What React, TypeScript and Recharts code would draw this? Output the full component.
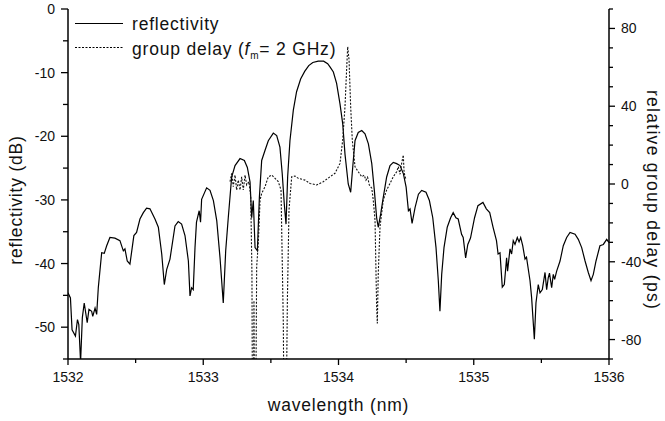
import React from 'react';
import { LineChart, Line, XAxis, YAxis, Legend } from 'recharts';

const reflWavelength = [
  1532.0, 1532.018, 1532.03, 1532.055, 1532.07, 1532.08, 1532.093, 1532.106, 1532.12, 1532.142,
  1532.155, 1532.175, 1532.183, 1532.2, 1532.212, 1532.224, 1532.249, 1532.268, 1532.286, 1532.31,
  1532.347, 1532.384, 1532.409, 1532.421, 1532.438, 1532.458, 1532.487, 1532.507, 1532.532, 1532.557,
  1532.581, 1532.606, 1532.643, 1532.668, 1532.693, 1532.712, 1532.73, 1532.754, 1532.791, 1532.815,
  1532.84, 1532.865, 1532.89, 1532.902, 1532.914, 1532.926, 1532.939, 1532.95, 1532.97, 1532.98,
  1532.988, 1533.025, 1533.05, 1533.075, 1533.1, 1533.124, 1533.148, 1533.166, 1533.185, 1533.21,
  1533.235, 1533.272, 1533.304, 1533.326, 1533.346, 1533.358, 1533.37, 1533.383, 1533.4, 1533.415,
  1533.432, 1533.457, 1533.481, 1533.518, 1533.543, 1533.567, 1533.584, 1533.599, 1533.612, 1533.624,
  1533.641, 1533.666, 1533.69, 1533.72, 1533.75, 1533.78, 1533.81, 1533.85, 1533.89, 1533.92,
  1533.937, 1533.962, 1533.986, 1534.011, 1534.031, 1534.048, 1534.072, 1534.09, 1534.105, 1534.122,
  1534.146, 1534.172, 1534.196, 1534.221, 1534.246, 1534.265, 1534.282, 1534.294, 1534.312, 1534.331,
  1534.356, 1534.381, 1534.405, 1534.43, 1534.455, 1534.48, 1534.5, 1534.517, 1534.529, 1534.544,
  1534.566, 1534.591, 1534.615, 1534.647, 1534.672, 1534.697, 1534.721, 1534.738, 1534.75, 1534.763,
  1534.78, 1534.804, 1534.829, 1534.848, 1534.868, 1534.885, 1534.91, 1534.922, 1534.94, 1534.956,
  1534.976, 1535.006, 1535.031, 1535.068, 1535.093, 1535.118, 1535.143, 1535.168, 1535.18, 1535.194,
  1535.211, 1535.226, 1535.243, 1535.25, 1535.268, 1535.28, 1535.292, 1535.305, 1535.322, 1535.335,
  1535.347, 1535.362, 1535.379, 1535.39, 1535.416, 1535.428, 1535.448, 1535.46, 1535.477, 1535.49,
  1535.507, 1535.527, 1535.539, 1535.551, 1535.56, 1535.576, 1535.588, 1535.598, 1535.613, 1535.638,
  1535.662, 1535.687, 1535.712, 1535.749, 1535.773, 1535.798, 1535.823, 1535.847, 1535.867, 1535.884,
  1535.904, 1535.933, 1535.958, 1535.983, 1536.0,
];

const reflDb = [
  -44.6, -45.4, -50.4, -51.4, -48.8, -49.6, -55.5, -48.5, -46.2, -49.3,
  -47.2, -47.5, -48.3, -47.0, -48.0, -43.8, -38.3, -38.4, -37.2, -35.9,
  -36.0, -36.4, -38.0, -37.7, -39.6, -40.1, -35.6, -35.1, -33.0, -32.0,
  -31.3, -31.4, -33.0, -34.3, -38.5, -43.3, -40.9, -39.3, -34.1, -33.4,
  -33.8, -35.6, -39.6, -45.1, -43.8, -44.1, -37.5, -33.5, -31.7, -33.5,
  -29.9, -28.1, -28.5, -30.1, -33.3, -39.1, -46.2, -38.0, -32.8, -26.4,
  -24.6, -23.5, -23.8, -24.9, -27.2, -32.8, -30.1, -37.5, -38.0, -29.6,
  -23.8, -22.2, -20.7, -19.5, -19.9, -21.7, -25.9, -30.6, -33.8, -26.4,
  -20.7, -15.9, -13.0, -11.0, -9.8, -8.9, -8.4, -8.2, -8.2, -8.6,
  -9.1, -9.9, -11.7, -14.9, -18.0, -22.8, -27.5, -28.8, -24.9, -20.7,
  -19.4, -19.1, -19.6, -21.2, -24.3, -28.5, -32.8, -34.3, -32.2, -29.6,
  -26.4, -24.6, -24.1, -24.3, -24.6, -25.9, -28.0, -31.7, -31.4, -33.7,
  -31.2, -29.1, -28.5, -28.8, -30.1, -32.8, -37.5, -42.7, -47.5, -41.7,
  -37.5, -34.3, -32.8, -32.0, -32.8, -33.0, -35.4, -35.9, -39.1, -37.0,
  -36.0, -32.8, -30.9, -30.4, -31.4, -32.0, -34.3, -36.4, -38.5, -38.3,
  -43.7, -43.3, -39.1, -41.2, -37.7, -38.5, -36.4, -37.0, -35.9, -36.6,
  -35.9, -37.2, -39.3, -39.0, -42.7, -45.4, -51.9, -46.2, -43.3, -44.6,
  -44.1, -41.4, -44.1, -42.2, -41.5, -43.8, -41.7, -42.5, -41.2, -39.6,
  -37.2, -35.9, -35.1, -35.4, -36.2, -37.5, -39.6, -41.4, -42.7, -41.7,
  -39.6, -37.2, -37.0, -36.2, -36.7,
];

const delayWavelength = [
  1533.198, 1533.21, 1533.222, 1533.235, 1533.247, 1533.259, 1533.272, 1533.284, 1533.296, 1533.309,
  1533.321, 1533.338, 1533.351, 1533.36, 1533.365, 1533.37, 1533.375, 1533.38, 1533.386, 1533.395,
  1533.407, 1533.42, 1533.432, 1533.457, 1533.469, 1533.481, 1533.506, 1533.531, 1533.555, 1533.575,
  1533.592, 1533.599, 1533.61, 1533.622, 1533.634, 1533.654, 1533.678, 1533.703, 1533.752, 1533.789,
  1533.839, 1533.888, 1533.937, 1533.974, 1534.011, 1534.031, 1534.048, 1534.061, 1534.068, 1534.078,
  1534.09, 1534.102, 1534.122, 1534.146, 1534.172, 1534.19, 1534.203, 1534.215, 1534.228, 1534.246,
  1534.257, 1534.27, 1534.282, 1534.287, 1534.294, 1534.307, 1534.331, 1534.356, 1534.381, 1534.405,
  1534.43, 1534.442, 1534.455, 1534.467, 1534.479, 1534.485, 1534.492, 1534.499,
];

const delayPs = [
  1.2, 5.5, -1.4, 4.6, -3.1, 2.0, -3.1, 3.7, -3.1, 4.6,
  -0.5, 1.2, -6.5, -46, -140, -140, -60, -140, -140, -42.5,
  -30.5, -8.3, -4.8, -1.4, 1.2, 3.7, 4.6, 2.9, 1.2, -3.1,
  -71.7, -140, -140, -60, -13.4, 3.7, 4.1, 2.9, 2.0, 0.3,
  -0.5, 1.2, 3.7, 5.5, 10.6, 22.6, 39.7, 60.3, 70.6, 63.8,
  39.7, 22.6, 8.9, 6.3, 3.7, 4.5, 2.0, 3.5, -0.5, -2.2,
  -8.3, -18.5, -63.1, -71.7, -46, -22, -8.3, -3.1, 0.3, 3.7,
  6.3, 8.9, 5.0, 10.6, 14.9, 6.0, 3.7, 2.5,
];

const xTicks = [1532, 1532.5, 1533, 1533.5, 1534, 1534.5, 1535, 1535.5, 1536];
const leftTicks = [0, -5, -10, -15, -20, -25, -30, -35, -40, -45, -50, -55];
const rightTicks = [90, 80, 70, 60, 50, 40, 30, 20, 10, 0, -10, -20, -30, -40, -50, -60, -70, -80, -90];

const reflData = reflWavelength.map((wl, i) => ({ wl, db: reflDb[i] }));
const delayData = delayWavelength.map((wl, i) => ({ wl, ps: delayPs[i] }));

const FONT = '"Liberation Sans", Arial, Helvetica, sans-serif';
const tickStyle: React.CSSProperties = { fontFamily: FONT, fontSize: 14, fill: '#111' };
const titleStyle: React.CSSProperties = { fontFamily: FONT, fontSize: 17.5, fill: '#111', letterSpacing: 0.8 };
const INK = '#000';

const BottomTick = (p: any) => {
  const v = p.payload.value;
  const major = Number.isInteger(v);
  return (
    <g>
      <line x1={p.x} x2={p.x} y1={p.y} y2={p.y + (major ? 6 : 4)} stroke={INK} strokeWidth={1.3} />
      {major && (
        <text x={p.x} y={p.y + 23} textAnchor="middle" style={tickStyle}>{v}</text>
      )}
    </g>
  );
};

const TopTick = (p: any) => {
  const v = p.payload.value;
  const major = Number.isInteger(v);
  return <line x1={p.x} x2={p.x} y1={p.y} y2={p.y - (major ? 7 : 6)} stroke={INK} strokeWidth={1.3} />;
};

const LeftTick = (p: any) => {
  const v = p.payload.value;
  const major = v % 10 === 0;
  return (
    <g>
      <line x1={p.x} x2={p.x - (major ? 7 : 5)} y1={p.y} y2={p.y} stroke={INK} strokeWidth={1.3} />
      {major && (
        <text x={p.x - 13} y={p.y + 5} textAnchor="end" style={tickStyle}>{String(v)}</text>
      )}
    </g>
  );
};

const RightTick = (p: any) => {
  const v = p.payload.value;
  const major = v % 40 === 0;
  return (
    <g>
      <line x1={p.x} x2={p.x + (major ? 6 : 4)} y1={p.y} y2={p.y} stroke={INK} strokeWidth={1.3} />
      {major && (
        <text x={p.x + 12} y={p.y + 5} textAnchor="start" style={tickStyle}>{String(v)}</text>
      )}
    </g>
  );
};

const LeftTitle = (props: any) => {
  const vb = props.viewBox || { x: 0, y: 9, width: 68, height: 350 };
  const cx = vb.x + 16;
  const cy = vb.y + vb.height / 2 + 16;
  return (
    <text x={cx} y={cy} transform={`rotate(-90 ${cx} ${cy})`} textAnchor="middle" dominantBaseline="central" style={titleStyle}>
      reflectivity (dB)
    </text>
  );
};

const RightTitle = (props: any) => {
  const vb = props.viewBox || { x: 609, y: 9, width: 56, height: 350 };
  const cx = vb.x + 44;
  const cy = vb.y + vb.height / 2 + 16;
  return (
    <text x={cx} y={cy} transform={`rotate(90 ${cx} ${cy})`} textAnchor="middle" dominantBaseline="central" style={{ ...titleStyle, letterSpacing: 1.3 }}>
      relative group delay (ps)
    </text>
  );
};

const BottomTitle = (props: any) => {
  const vb = props.viewBox || { x: 68, y: 359, width: 541, height: 62 };
  return (
    <text x={vb.x + vb.width / 2} y={vb.y + 52} textAnchor="middle" style={titleStyle}>
      wavelength (nm)
    </text>
  );
};

const LegendBox = () => (
  <svg width={665} height={70} style={{ display: 'block' }}>
    <line x1={75} x2={123} y1={23.5} y2={23.5} stroke={INK} strokeWidth={1.2} />
    <text x={132} y={30} style={titleStyle}>reflectivity</text>
    <line x1={75} x2={123} y1={47.5} y2={47.5} stroke={INK} strokeWidth={1.1} strokeDasharray="2 1.5" />
    <text x={132} y={54.5} style={titleStyle}>
      group delay (
      <tspan fontStyle="italic">f</tspan>
      <tspan fontSize={10} dy={4}>m</tspan>
      <tspan dy={-4}>= 2 GHz)</tspan>
    </text>
  </svg>
);

export default function App() {
  return (
    <div style={{ position: 'absolute', left: 0, top: 0, width: 665, height: 421, background: '#fff' }}>
      <LineChart width={665} height={421} margin={{ top: 9, right: 0, bottom: 0, left: 0 }}>
        <XAxis
          dataKey="wl"
          type="number"
          domain={[1532, 1536]}
          ticks={xTicks}
          interval={0}
          allowDataOverflow
          height={62}
          tickSize={0}
          tickMargin={0}
          tickLine={false}
          tick={<BottomTick />}
          axisLine={{ stroke: INK, strokeWidth: 1.5 }}
          label={<BottomTitle />}
        />
        <XAxis
          xAxisId="top"
          orientation="top"
          dataKey="wl"
          type="number"
          domain={[1532, 1536]}
          ticks={xTicks}
          interval={0}
          allowDataOverflow
          height={0}
          tickSize={0}
          tickMargin={0}
          tickLine={false}
          tick={<TopTick />}
          axisLine={{ stroke: INK, strokeWidth: 1.5 }}
        />
        <YAxis
          yAxisId="left"
          type="number"
          domain={[-55, 0]}
          ticks={leftTicks}
          interval={0}
          allowDataOverflow
          width={68}
          tickSize={0}
          tickMargin={0}
          tickLine={false}
          tick={<LeftTick />}
          axisLine={{ stroke: INK, strokeWidth: 1.5 }}
          label={<LeftTitle />}
        />
        <YAxis
          yAxisId="right"
          orientation="right"
          type="number"
          domain={[-90, 90]}
          ticks={rightTicks}
          interval={0}
          allowDataOverflow
          width={56}
          tickSize={0}
          tickMargin={0}
          tickLine={false}
          tick={<RightTick />}
          axisLine={{ stroke: INK, strokeWidth: 1.5 }}
          label={<RightTitle />}
        />
        <Legend
          layout="vertical"
          align="center"
          verticalAlign="middle"
          content={() => <LegendBox />}
          wrapperStyle={{ left: 0, top: 0, width: 665, height: 70 }}
        />
        <Line
          yAxisId="left"
          data={reflData}
          dataKey="db"
          name="reflectivity"
          type="linear"
          stroke={INK}
          strokeWidth={1.2}
          dot={false}
          activeDot={false}
          isAnimationActive={false}
        />
        <Line
          yAxisId="right"
          data={delayData}
          dataKey="ps"
          name="group delay"
          type="linear"
          stroke="#111"
          strokeWidth={1.1}
          strokeDasharray="2 1.5"
          dot={false}
          activeDot={false}
          isAnimationActive={false}
        />
      </LineChart>
    </div>
  );
}
